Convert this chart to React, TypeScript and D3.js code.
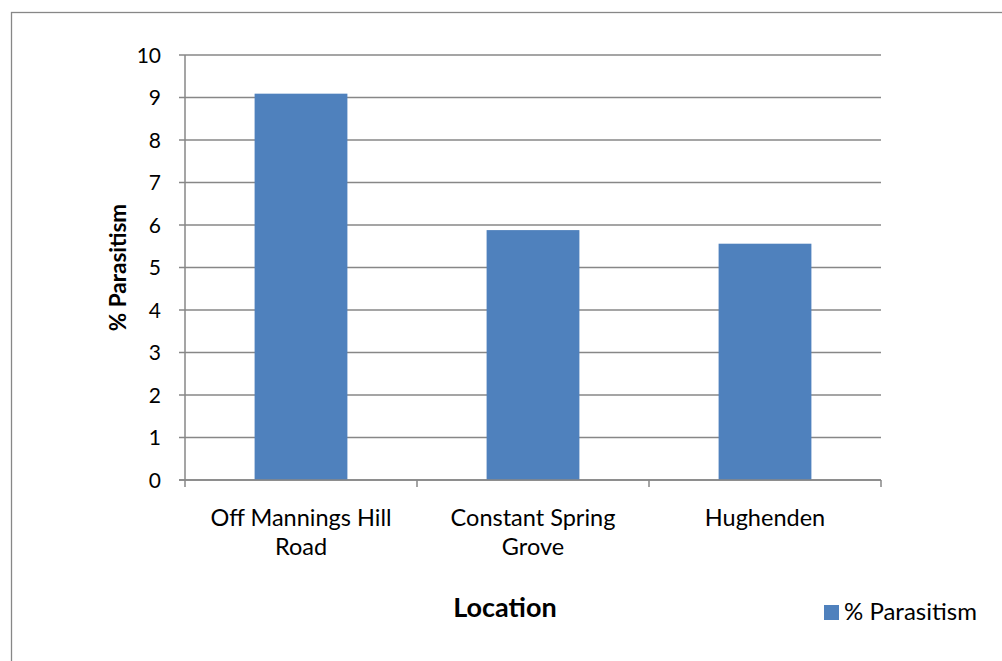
import React from "react";
import * as d3 from "d3";

const categories = ["Off Mannings Hill Road", "Constant Spring Grove", "Hughenden"];
const labelLines = [["Off Mannings Hill", "Road"], ["Constant Spring", "Grove"], ["Hughenden"]];
const parasitism = [9.09, 5.88, 5.56];
const yTicks = [0, 1, 2, 3, 4, 5, 6, 7, 8, 9, 10];

const W = 1002;
const H = 661;
const plot = { left: 185, right: 881, top: 55, bottom: 480 };
const font = "Lato, 'Open Sans', sans-serif";
const grid = "#878787";
const barColor = "#4f81bd";

const App: React.FC = () => {
  const x = d3
    .scaleBand<string>()
    .domain(categories)
    .range([plot.left, plot.right])
    .paddingInner(0.6)
    .paddingOuter(0.3);
  const y = d3.scaleLinear().domain([0, 10]).range([plot.bottom, plot.top]);
  const step = (plot.right - plot.left) / categories.length;

  return (
    <svg
      width={W}
      height={H}
      style={{ position: "absolute", left: 0, top: 0, display: "block", background: "#fff" }}
    >
      {/* outer chart border */}
      <rect x={11.5} y={12.5} width={1100} height={800} fill="none" stroke={grid} strokeWidth={1.3} />

      {/* gridlines */}
      {yTicks.map(t => (
        <line
          key={"g" + t}
          x1={plot.left - 6}
          x2={plot.right}
          y1={y(t)}
          y2={y(t)}
          stroke={grid}
          strokeWidth={1.5}
        />
      ))}

      {/* bars */}
      {categories.map((c, i) => (
        <rect
          key={c}
          x={x(c)}
          y={y(parasitism[i])}
          width={x.bandwidth()}
          height={y(0) - y(parasitism[i])}
          fill={barColor}
        />
      ))}

      {/* axes */}
      <line x1={plot.left} x2={plot.left} y1={plot.top} y2={plot.bottom} stroke={grid} strokeWidth={1.5} />
      <line x1={plot.left - 6} x2={plot.right} y1={plot.bottom} y2={plot.bottom} stroke={grid} strokeWidth={1.5} />
      {d3.range(categories.length + 1).map(i => (
        <line
          key={"xt" + i}
          x1={plot.left + i * step}
          x2={plot.left + i * step}
          y1={plot.bottom}
          y2={plot.bottom + 7}
          stroke={grid}
          strokeWidth={1.5}
        />
      ))}

      {/* y tick labels */}
      {yTicks.map(t => (
        <text
          key={"yl" + t}
          x={plot.left - 24}
          y={y(t)}
          dy="0.36em"
          textAnchor="end"
          fontFamily={font}
          fontSize={21}
          fill="#000"
        >
          {t}
        </text>
      ))}

      {/* x labels */}
      {categories.map((c, i) => (
        <text
          key={"xl" + c}
          x={(x(c) as number) + x.bandwidth() / 2}
          y={526}
          textAnchor="middle"
          fontFamily={font}
          fontSize={23.5}
          fill="#000"
        >
          {labelLines[i].map((l, j) => (
            <tspan key={j} x={(x(c) as number) + x.bandwidth() / 2} dy={j === 0 ? 0 : 29}>
              {l}
            </tspan>
          ))}
        </text>
      ))}

      {/* axis titles */}
      <text
        transform={`translate(126,${(plot.top + plot.bottom) / 2}) rotate(-90)`}
        textAnchor="middle"
        fontFamily={font}
        fontWeight="bold"
        fontSize={22.5}
        fill="#000"
      >
        % Parasitism
      </text>
      <text x={505} y={617} textAnchor="middle" fontFamily={font} fontWeight="bold" fontSize={27} fill="#000">
        Location
      </text>

      {/* legend */}
      <rect x={824} y={605} width={15} height={15} fill={barColor} />
      <text x={844} y={620} fontFamily={font} fontSize={24} fill="#000">
        % Parasitism
      </text>
    </svg>
  );
};

export default App;
